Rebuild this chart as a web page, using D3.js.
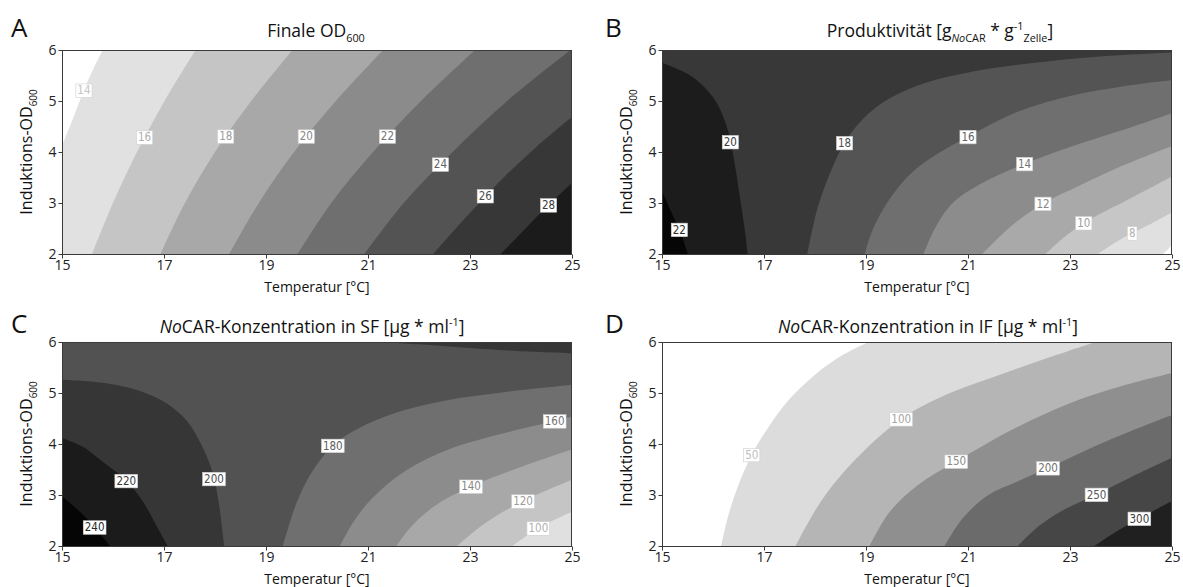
<!DOCTYPE html>
<html>
<head>
<meta charset="utf-8">
<script src="https://cdn.jsdelivr.net/npm/d3@7"></script>
<style>
  body { margin: 0; background: #fff; }
  svg { display: block; }
</style>
</head>
<body>
<svg id="chart" width="1183" height="587"></svg>
<script>
// ---- shared axes ----
const tempDomain = [15, 25];
const odDomain = [2, 6];
const tempTicks = [15, 17, 19, 21, 23, 25];
const odTicks = [2, 3, 4, 5, 6];

// ---- A: final OD600 — contour levels, iso-lines [temperature, induction OD], label anchors ----
const odFinalLevels = [14, 16, 18, 20, 22, 24, 26, 28];
const odFinalLines = [
  [[15, 4.12], [15.2, 4.62], [15.43, 5.21], [15.62, 5.64], [15.8, 6]],
  [[15.59, 2], [16.0, 3], [16.47, 4], [17.01, 5], [17.62, 6]],
  [[16.93, 2], [17.41, 3], [18.0, 4], [18.71, 5], [19.52, 6]],
  [[18.28, 2], [18.86, 3], [19.55, 4], [20.37, 5], [21.3, 6]],
  [[19.62, 2], [20.28, 3], [21.1, 4], [22.04, 5], [23.1, 6]],
  [[20.93, 2], [21.7, 3], [22.66, 4], [23.73, 5], [24.97, 6]],
  [[22.28, 2], [22.72, 2.5], [23.18, 3], [23.69, 3.53], [24.3, 4.1], [25, 4.69]],
  [[23.6, 2], [24.07, 2.48], [24.54, 2.96], [25, 3.39]]
];
const odFinalLabelAt = [
  [15.43, 5.21], [16.62, 4.29], [18.21, 4.31], [19.79, 4.31],
  [21.38, 4.31], [22.42, 3.76], [23.3, 3.14], [24.54, 2.96]
];

// ---- B: productivity ----
const prodLevels = [6, 8, 10, 12, 14, 16, 18, 20, 22];
const prodLines = [
  [[25, 2.18], [24.92, 2.09], [24.82, 2]],
  [[25, 2.82], [24.6, 2.6], [24.22, 2.41], [23.85, 2.2], [23.55, 2]],
  [[25, 3.52], [24.2, 3.1], [23.27, 2.61], [22.85, 2.3], [22.52, 2]],
  [[25, 4.12], [24.0, 3.72], [23.2, 3.35], [22.47, 2.99], [21.85, 2.55], [21.28, 2]],
  [[25, 4.76], [24.0, 4.42], [23.0, 4.1], [22.11, 3.77], [21.3, 3.4], [20.7, 3.0], [20.35, 2.5], [20.13, 2]],
  [[25, 5.41], [24.0, 5.28], [23.0, 5.1], [22.0, 4.8], [21.0, 4.3], [20.3, 3.9], [19.8, 3.5], [19.35, 2.9], [19.1, 2.4], [18.98, 2]],
  [[25, 5.95], [23.7, 5.88], [22.5, 5.77], [21.1, 5.58], [20.0, 5.3], [19.3, 4.95], [18.85, 4.55], [18.58, 4.18], [18.3, 3.6], [18.05, 2.9], [17.85, 2]],
  [[15, 5.75], [15.6, 5.47], [16.05, 5.0], [16.3, 4.4], [16.42, 3.8], [16.53, 3.1], [16.62, 2.5], [16.68, 2]],
  [[15, 3.24], [15.17, 2.85], [15.34, 2.48], [15.51, 2]]
];
const prodLabelAt = [
  null, [24.22, 2.41], [23.27, 2.61], [22.47, 2.99], [22.11, 3.77],
  [21.0, 4.3], [18.58, 4.18], [16.34, 4.2], [15.34, 2.48]
];

// ---- C: NoCAR concentration in soluble fraction ----
const sfLevels = [100, 120, 140, 160, 180, 200, 200, 220, 240];
const sfLines = [
  [[25, 2.67], [24.34, 2.35], [23.83, 2]],
  [[25, 3.3], [24.04, 2.88], [23.3, 2.45], [22.75, 2]],
  [[25, 3.89], [24.0, 3.55], [23.02, 3.17], [22.3, 2.78], [21.85, 2.38], [21.56, 2]],
  [[25, 4.54], [24.66, 4.45], [23.7, 4.22], [22.6, 3.9], [21.7, 3.45], [21.05, 2.9], [20.7, 2.45], [20.45, 2]],
  [[25, 5.16], [23.7, 5.02], [22.5, 4.85], [21.5, 4.6], [20.8, 4.3], [20.31, 3.97], [19.9, 3.45], [19.6, 2.85], [19.33, 2]],
  [[15, 5.26], [15.8, 5.2], [16.5, 5.05], [17.05, 4.8], [17.45, 4.45], [17.75, 3.95], [17.95, 3.45], [18.08, 2.8], [18.18, 2]],
  [[25, 5.78], [24, 5.82], [23, 5.88], [22.2, 5.94], [21.3, 6]],
  [[15, 4.12], [15.4, 3.95], [15.8, 3.65], [16.26, 3.28], [16.6, 2.85], [16.85, 2.4], [17.07, 2]],
  [[15, 2.97], [15.34, 2.68], [15.64, 2.37], [15.94, 2]]
];
const sfLabelAt = [
  [24.34, 2.35], [24.04, 2.88], [23.02, 3.17], [24.66, 4.45], [20.31, 3.97],
  [17.98, 3.32], null, [16.26, 3.28], [15.64, 2.37]
];

// ---- D: NoCAR concentration in insoluble fraction ----
const ifLevels = [50, 100, 150, 200, 250, 300];
const ifLines = [
  [[16.16, 2], [16.3, 2.6], [16.5, 3.2], [16.76, 3.79], [17.1, 4.35], [17.5, 4.88], [18.0, 5.36], [18.5, 5.72], [19.05, 6]],
  [[17.62, 2], [18.1, 2.85], [18.7, 3.6], [19.69, 4.49], [20.6, 4.98], [21.6, 5.35], [22.6, 5.7], [23.5, 6]],
  [[19.07, 2], [19.45, 2.65], [20.0, 3.18], [20.77, 3.66], [21.9, 4.3], [23.0, 4.8], [24.0, 5.13], [25, 5.39]],
  [[20.54, 2], [20.9, 2.55], [21.4, 3.0], [22.0, 3.28], [22.57, 3.53], [23.7, 4.05], [25, 4.57]],
  [[21.98, 2], [22.4, 2.4], [22.9, 2.72], [23.52, 3.01], [24.3, 3.4], [25, 3.73]],
  [[23.48, 2], [23.9, 2.28], [24.36, 2.54], [25, 2.88]]
];
const ifLabelAt = [
  [16.76, 3.79], [19.69, 4.49], [20.77, 3.66], [22.57, 3.53], [23.52, 3.01], [24.36, 2.54]
];

// ---- grey ramps, lowest band first ----
const odFinalBands = ["#ffffff", "#e1e1e1", "#c5c5c5", "#a8a8a8", "#8b8b8b", "#6f6f6f", "#535353", "#373737", "#1b1b1b"];
const prodBands = ["#ffffff", "#e0e0e0", "#c6c6c6", "#a9a9a9", "#8c8c8c", "#6f6f6f", "#545454", "#383838", "#1c1c1c", "#060606"];
const sfBands = ["#e0e0e0", "#c5c5c5", "#a8a8a8", "#8c8c8c", "#6f6f6f", "#525252", "#363636", "#1b1b1b", "#050505"];
const ifBands = ["#ffffff", "#dcdcdc", "#b5b5b5", "#8f8f8f", "#6b6b6b", "#464646", "#202020"];

const FONT = '"Open Sans", "Noto Sans", "DejaVu Sans", sans-serif';
const LABEL_FONT = '"Liberation Sans Narrow", "DejaVu Sans Condensed", "Open Sans", sans-serif';
const PW = 510, PH = 204;

const svg = d3.select("#chart");

// Perimeter coordinate (clockwise from top-left corner) of a point lying on the plot border.
function perimPos(p) {
  const [t, o] = p, e = 0.03;
  if (Math.abs(o - odDomain[1]) < e) return (t - tempDomain[0]) / 10;
  if (Math.abs(t - tempDomain[1]) < e) return 1 + (odDomain[1] - o) / 4;
  if (Math.abs(o - odDomain[0]) < e) return 2 + (tempDomain[1] - t) / 10;
  return 3 + (o - odDomain[0]) / 4;
}
const cornerPts = [[15, 6], [25, 6], [25, 2], [15, 2]];
// Corners passed when walking clockwise along the border from the line's end back to its start.
function closingCorners(start, end) {
  const sEnd = perimPos(end);
  let sStart = perimPos(start);
  if (sStart <= sEnd) sStart += 4;
  const out = [];
  for (let k = Math.floor(sEnd) + 1; k < sStart; k++) out.push(cornerPts[k % 4]);
  return out;
}

// Text with sub/superscript segments.
function richText(sel, segs, size) {
  let off = 0;
  segs.forEach(s => {
    const target = s.sub ? size * 0.32 : s.sup ? -size * 0.4 : 0;
    const ts = sel.append("tspan")
      .attr("dy", target - off)
      .style("font-size", (s.sub || s.sup) ? (size * 0.62) + "px" : size + "px")
      .text(s.t);
    if (s.it) ts.style("font-style", "italic");
    off = target;
  });
}

function drawPanel(p) {
  const x = d3.scaleLinear().domain(tempDomain).range([p.left, p.left + PW]);
  const y = d3.scaleLinear().domain(odDomain).range([p.top + PH, p.top]);
  const g = svg.append("g");

  const clipId = "clip" + p.letter;
  svg.append("clipPath").attr("id", clipId)
    .append("rect").attr("x", p.left).attr("y", p.top).attr("width", PW).attr("height", PH);

  const fills = g.append("g").attr("clip-path", `url(#${clipId})`);
  fills.append("rect")
    .attr("x", p.left).attr("y", p.top).attr("width", PW).attr("height", PH)
    .attr("fill", p.bands[0]);

  const uniq = Array.from(new Set(p.levels)).sort(d3.ascending);
  const bandOf = lv => p.bands[uniq.indexOf(lv) + 1];
  const order = d3.range(p.levels.length).sort((a, b) => p.levels[a] - p.levels[b]);
  const curve = d3.line().x(d => x(d[0])).y(d => y(d[1])).curve(d3.curveCatmullRom.alpha(0.5));

  // filled region above each level
  order.forEach(i => {
    const pts = p.lines[i];
    const closing = closingCorners(pts[0], pts[pts.length - 1]);
    const d = curve(pts) + closing.map(c => `L${x(c[0])},${y(c[1])}`).join("") + "Z";
    fills.append("path").attr("d", d).attr("fill", bandOf(p.levels[i]));
  });

  // frame
  g.append("rect")
    .attr("x", p.left + 0.5).attr("y", p.top + 0.5).attr("width", PW - 1).attr("height", PH)
    .attr("fill", "none").attr("stroke", "#3a3a3a").attr("stroke-width", 1);

  // axes
  const xa = g.append("g").attr("transform", `translate(0,${p.top + PH + 0.5})`)
    .call(d3.axisBottom(x).tickValues(tempTicks).tickSize(4).tickSizeOuter(0).tickPadding(2));
  const ya = g.append("g").attr("transform", `translate(${p.left + 0.5},0)`)
    .call(d3.axisLeft(y).tickValues(odTicks).tickFormat(d3.format("d")).tickSize(4).tickSizeOuter(0).tickPadding(2));
  [xa, ya].forEach(a => {
    a.select(".domain").remove();
    a.selectAll(".tick line").attr("stroke", "#3a3a3a");
    a.selectAll(".tick text").attr("fill", "#222").style("font-family", FONT).style("font-size", "14px");
  });

  // contour labels
  p.labels.forEach((pos, i) => {
    if (!pos) return;
    const lv = p.levels[i];
    const lg = g.append("g").attr("transform", `translate(${x(pos[0])},${y(pos[1])})`);
    const t = lg.append("text")
      .attr("text-anchor", "middle").attr("dy", "0.36em")
      .style("font-family", LABEL_FONT).style("font-size", "11.5px")
      .attr("fill", d3.interpolateRgb(bandOf(lv), "#808080")(0.3))
      .text(lv);
    const bb = t.node().getBBox();
    lg.insert("rect", "text")
      .attr("x", bb.x - 1.5).attr("y", bb.y + 0.5).attr("width", bb.width + 3).attr("height", bb.height - 0.5)
      .attr("fill", "#fff").attr("stroke", "#cfcfcf").attr("stroke-width", 0.6);
  });

  // panel letter
  g.append("text").attr("x", p.letter === "A" || p.letter === "C" ? 11 : 605).attr("y", p.top - 13 + p.titleDy)
    .style("font-family", FONT).style("font-size", "26px").attr("fill", "#111").text(p.letter);

  // title
  const tt = g.append("text").attr("x", p.titleX).attr("y", p.top - 13.5 + p.titleDy)
    .attr("text-anchor", "middle").attr("fill", "#111").style("font-family", FONT);
  richText(tt, p.title, 17.5);

  // axis titles
  const xt = g.append("text").attr("x", p.left + PW / 2).attr("y", p.top + PH + 38)
    .attr("text-anchor", "middle").attr("fill", "#111").style("font-family", FONT);
  richText(xt, [{ t: "Temperatur [°C]" }], 14);

  const yt = g.append("text")
    .attr("transform", `translate(${p.left - 30},${p.top + PH / 2}) rotate(-90)`)
    .attr("text-anchor", "middle").attr("fill", "#111").style("font-family", FONT);
  richText(yt, [{ t: "Induktions-OD" }, { t: "600", sub: true }], 16);
}

drawPanel({
  letter: "A", left: 62, top: 50, titleX: 316, titleDy: 0,
  levels: odFinalLevels, lines: odFinalLines, labels: odFinalLabelAt, bands: odFinalBands,
  title: [{ t: "Finale OD" }, { t: "600", sub: true }]
});
drawPanel({
  letter: "B", left: 662, top: 50, titleX: 940, titleDy: 0,
  levels: prodLevels, lines: prodLines, labels: prodLabelAt, bands: prodBands,
  title: [{ t: "Produktivität [g" }, { t: "No", sub: true, it: true }, { t: "CAR", sub: true },
          { t: " * g" }, { t: "-1", sup: true }, { t: "Zelle", sub: true }, { t: "]" }]
});
drawPanel({
  letter: "C", left: 62, top: 342, titleX: 312, titleDy: 4,
  levels: sfLevels, lines: sfLines, labels: sfLabelAt, bands: sfBands,
  title: [{ t: "No", it: true }, { t: "CAR-Konzentration in SF [µg * ml" }, { t: "-1", sup: true }, { t: "]" }]
});
drawPanel({
  letter: "D", left: 662, top: 342, titleX: 928, titleDy: 4,
  levels: ifLevels, lines: ifLines, labels: ifLabelAt, bands: ifBands,
  title: [{ t: "No", it: true }, { t: "CAR-Konzentration in IF [µg * ml" }, { t: "-1", sup: true }, { t: "]" }]
});
</script>
</body>
</html>
